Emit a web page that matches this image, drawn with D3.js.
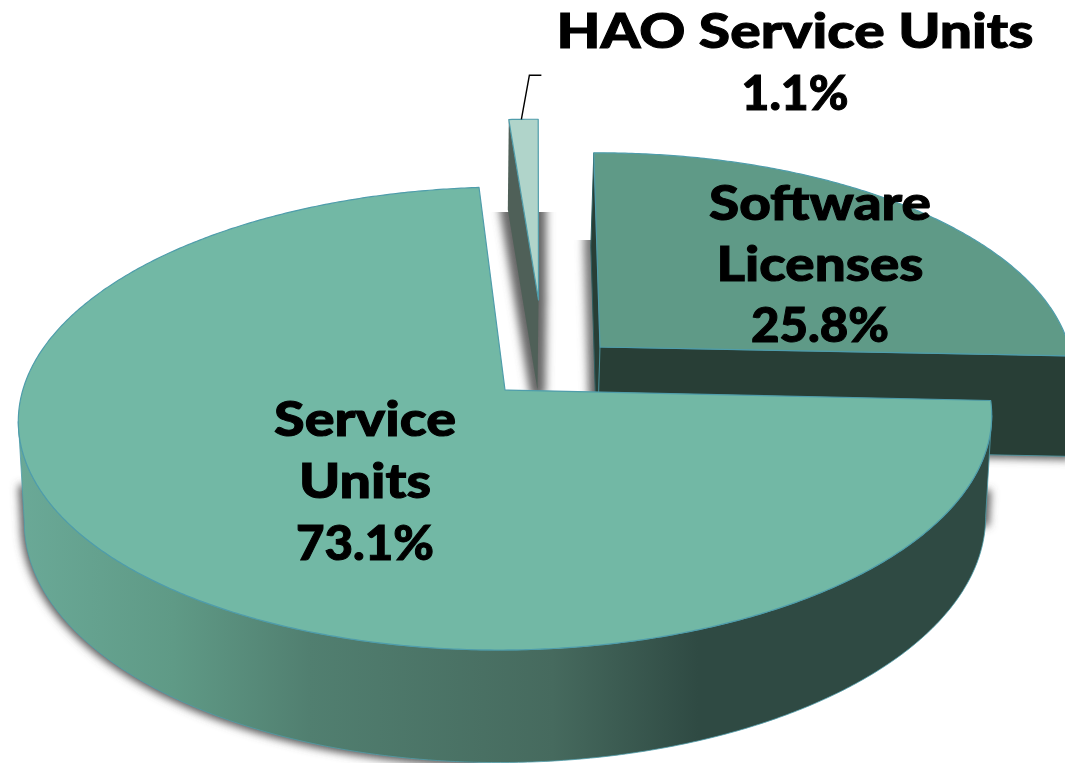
<!DOCTYPE html>
<html><head><meta charset="utf-8">
<script src="https://cdn.jsdelivr.net/npm/d3@7"></script>
<style>html,body{margin:0;padding:0;background:#fff;overflow:hidden}svg{display:block}</style>
</head><body><div id="c"></div>
<script>
const categories = ["Software Licenses", "Service Units", "HAO Service Units"];
const shares = [25.8, 73.1, 1.1];
const labelLines = [["Software", "Licenses", "25.8%"], ["Service", "Units", "73.1%"], ["HAO Service Units", "1.1%"]];
const labelWidths = [[222, 207, 138], [182, 132, 138], [477, 107]];
const labelCenters = [[820, 220], [365, 436], [795, 48]];
const lineSteps = [61, 62, 62];
const topColors = ["#5f9a87", "#72b8a5", "#b0d4ca"];
const wallStops = [[0, "#6aa997"], [0.16, "#5f9a86"], [0.3, "#517f70"], [0.55, "#466a5e"], [0.7, "#2f4a43"], [1, "#2f4a43"]];
const solidWalls = ["#283e36", null, "#4f6058"];
const startDegrees = 0.5, perspective = 0.123;
const planes = [
  {top:{ox:600,oy:347,R:468,Rk:218,s:11,t:-4}, low:{ox:597,oy:447,R:468,Rk:225,s:11,t:-4}},
  {top:{ox:505,oy:390,R:483,Rk:228,s:0,t:-3},  low:{ox:505,oy:490,R:477,Rk:239,s:0,t:-3}},
  {top:{ox:538.5,oy:300,R:478,Rk:203,s:4.5,t:0},low:{ox:537.5,oy:390,R:478,Rk:203,s:4.5,t:0}}
];
const W = 1065, H = 763;
const svg = d3.select("#c").append("svg").attr("width", W).attr("height", H).attr("viewBox", [0,0,W,H]);
const defs = svg.append("defs");
const grad = defs.append("linearGradient").attr("id","wall").attr("gradientUnits","userSpaceOnUse")
  .attr("x1",18).attr("x2",990).attr("y1",0).attr("y2",0);
wallStops.forEach(s => grad.append("stop").attr("offset", s[0]).attr("stop-color", s[1]));
const blur = defs.append("filter").attr("id","blur").attr("filterUnits","userSpaceOnUse")
  .attr("x",-50).attr("y",-50).attr("width",W+100).attr("height",H+100);
blur.append("feGaussianBlur").attr("stdDeviation",4);
defs.append("clipPath").attr("id","clipHao").append("rect").attr("x",0).attr("y",212).attr("width",W).attr("height",H);
defs.append("clipPath").attr("id","clipSoft").append("rect").attr("x",0).attr("y",240).attr("width",598).attr("height",H);
const clipMain = defs.append("clipPath").attr("id","clipMain");
clipMain.append("rect").attr("x",0).attr("y",485).attr("width",480).attr("height",320);
clipMain.append("rect").attr("x",800).attr("y",490).attr("width",265).attr("height",36);

const rot = startDegrees * Math.PI / 180;
const arcs = d3.pie().sort(null).startAngle(rot).endAngle(rot + 2*Math.PI)(shares);
const project = (pl, a) => {
  const u = Math.sin(a), v = -Math.cos(a), w = 1 - perspective * v;
  return [pl.ox + (pl.R*u + pl.s*v)/w, pl.oy + (pl.Rk*v + pl.t*u)/w];
};
const rim = (pl, d) => {
  const n = Math.max(4, Math.ceil((d.endAngle - d.startAngle) * 120));
  return d3.range(n + 1).map(i => project(pl, d.startAngle + (d.endAngle - d.startAngle) * i / n));
};
const line = d3.line().curve(d3.curveLinear);
const facePath = (pl, d) => line([[pl.ox, pl.oy], ...rim(pl, d)]) + "Z";
const radialWall = (p, ang) => {
  const a = project(p.top, ang), b = project(p.low, ang);
  return line([[p.top.ox,p.top.oy], a, b, [p.low.ox,p.low.oy]]) + "Z";
};
// the part of the outer wall that faces the viewer: between the two side extremes of the rim
const turn = Math.acos(-perspective);
const frontArc = d => ({startAngle: Math.max(d.startAngle, turn), endAngle: Math.min(d.endAngle, 2*Math.PI - turn)});
const outerWall = (p, d) => { const f = frontArc(d);
  return line([...rim(p.top, f), ...rim(p.low, f).reverse()]) + "Z"; };
const edge = "#4f9dab";

// drop shadows
const shH = svg.append("g").attr("clip-path","url(#clipHao)").append("g").attr("filter","url(#blur)");
[radialWall(planes[2], arcs[2].startAngle), facePath(planes[2].top, arcs[2])].forEach(dd =>
  shH.append("path").attr("d", dd).attr("fill","#666").attr("stroke","#666").attr("stroke-width",16).attr("stroke-linejoin","round"));
const shS = svg.append("g").attr("clip-path","url(#clipSoft)").append("g").attr("filter","url(#blur)");
[radialWall(planes[0], arcs[0].startAngle), facePath(planes[0].top, arcs[0])].forEach(dd =>
  shS.append("path").attr("d", dd).attr("fill","#777").attr("stroke","#777").attr("stroke-width",14));
svg.append("g").attr("filter","url(#blur)").append("path").attr("d", radialWall(planes[0], arcs[0].endAngle))
  .attr("fill","#555").attr("stroke","#555").attr("stroke-width",6);
// blur is applied after the clip, so the ends of this shadow fade out
svg.append("g").attr("filter","url(#blur)").append("g").attr("clip-path","url(#clipMain)").append("path")
  .attr("d", outerWall(planes[1], arcs[1])).attr("fill","#555").attr("stroke","#555").attr("stroke-width",7);

// slices, back to front
[2,0,1].forEach(i => {
  const p = planes[i], d = arcs[i];
  const g = svg.append("g").attr("class","slice").attr("data-name", categories[i]);
  const fill = solidWalls[i] || "url(#wall)";
  if (i !== 1) g.append("path").attr("d", radialWall(p, d.startAngle)).attr("fill", fill).attr("stroke", i===0?"#2f5e60":"none").attr("stroke-width",1);
  if (i === 0) g.append("path").attr("d", radialWall(p, d.endAngle)).attr("fill", fill).attr("stroke", edge).attr("stroke-width",.8);
  if (i === 1) g.append("path").attr("d", outerWall(p, d)).attr("fill", fill).attr("stroke", edge).attr("stroke-width",.8);
  g.append("path").attr("d", facePath(p.top, d))
    .attr("fill", topColors[i]).attr("stroke", edge).attr("stroke-width",1.2).attr("stroke-linejoin","round");
});

// leader for the small slice
const hMid = project(planes[2].top, (arcs[2].startAngle + arcs[2].endAngle)/2 - 0.005);
svg.append("path").attr("d", line([hMid, [hMid[0]+8, hMid[1]-44], [hMid[0]+20, hMid[1]-44]]))
  .attr("fill","none").attr("stroke","#000").attr("stroke-width",1.4);

// labels
labelLines.forEach((ls, i) => {
  const t = svg.append("text").attr("text-anchor","middle")
    .attr("font-family","Lato, 'Open Sans', sans-serif").attr("font-weight",900).attr("font-size",48)
    .attr("fill","#000").attr("stroke","#000").attr("stroke-width",1);
  ls.forEach((s, j) => t.append("tspan").attr("x", labelCenters[i][0]).attr("y", labelCenters[i][1] + j*lineSteps[i])
    .attr("textLength", labelWidths[i][j]).attr("lengthAdjust","spacingAndGlyphs").text(s));
});
</script></body></html>
